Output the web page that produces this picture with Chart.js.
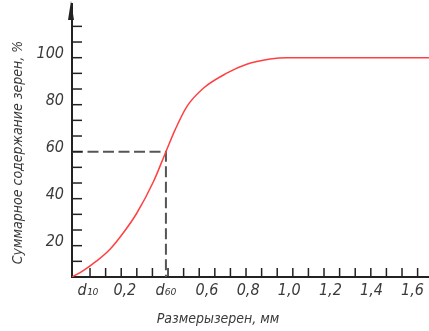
<!DOCTYPE html>
<html>
<head>
<meta charset="utf-8">
<script src="https://cdn.jsdelivr.net/npm/chart.js@4.4.0/dist/chart.umd.min.js"></script>
<style>
  html, body { margin: 0; padding: 0; background: #ffffff; }
  canvas { display: block; }
</style>
</head>
<body>
<canvas id="c" width="429" height="331"></canvas>
<script>
// ---- data ----
const grainSize = [-0.057, -0.002, 0.063, 0.128, 0.193, 0.258, 0.339, 0.40, 0.444, 0.501, 0.582, 0.696, 0.793, 0.907, 0.988, 1.101, 1.68];
const cumulativePercent = [6.67, 9.4, 13.5, 18.5, 25.5, 33.8, 47.2, 60, 69.2, 79.1, 87.0, 93.4, 97.2, 99.4, 100, 100, 100];

const d10 = 0.02;
const d60 = 0.40;
const level60 = 60;

const xTickValues = [d10, 0.2, d60, 0.6, 0.8, 1.0, 1.2, 1.4, 1.6];
const xTickLabels = ['d\u2081\u2080', '0,2', 'd\u2086\u2080', '0,6', '0,8', '1,0', '1,2', '1,4', '1,6'];
const yTickValues = [20, 40, 60, 80, 100];
const yTickLabels = ['20', '40', '60', '80', '100'];

const xMin = -0.057, xMax = 1.68;
const yMin = 20 / 3, yMax = 122.85;
const xMinorStart = 0.0307, xMinorStep = 0.0759, xMinorCount = 22;
const yMinorStep = 20 / 3, yMinorFrom = 2, yMinorTo = 17;

const xTitle = 'Размерызерен, мм';
const yTitle = 'Суммарное содержание зерен, %';

// ---- styles ----
const FONT = "'DejaVu Sans Condensed', 'Liberation Sans Narrow', 'Liberation Sans', sans-serif";
const TEXT_COLOR = '#3a3a3a';
const AXIS_COLOR = '#222222';

const xMinor = [];
for (let j = 0; j < xMinorCount; j++) xMinor.push(xMinorStart + xMinorStep * j);
const yMinor = [];
for (let k = yMinorFrom; k <= yMinorTo; k++) yMinor.push(yMinorStep * k);

const axisDecor = {
  id: 'axisDecor',
  afterDatasetsDraw(chart) {
    const ctx = chart.ctx;
    const xs = chart.scales.x, ys = chart.scales.y;
    const a = chart.chartArea;
    ctx.save();
    ctx.strokeStyle = AXIS_COLOR;
    ctx.lineWidth = 1.5;
    xMinor.forEach(v => {
      const px = xs.getPixelForValue(v);
      ctx.beginPath();
      ctx.moveTo(px, a.bottom);
      ctx.lineTo(px, a.bottom - 9);
      ctx.stroke();
    });
    yMinor.forEach(v => {
      const py = ys.getPixelForValue(v);
      ctx.beginPath();
      ctx.moveTo(a.left, py);
      ctx.lineTo(a.left + 10, py);
      ctx.stroke();
    });
    // arrow head on the y axis
    const ax = a.left - 1;
    ctx.fillStyle = AXIS_COLOR;
    ctx.beginPath();
    ctx.moveTo(ax, a.top - 3);
    ctx.lineTo(ax - 3, a.top + 16);
    ctx.lineTo(ax + 3, a.top + 16);
    ctx.closePath();
    ctx.fill();
    ctx.restore();
  }
};

new Chart(document.getElementById('c'), {
  type: 'line',
  data: {
    datasets: [
      {
        label: 'curve',
        data: grainSize.map((x, i) => ({ x: x, y: cumulativePercent[i] })),
        borderColor: 'rgb(255,64,64)',
        borderWidth: 1.5,
        pointRadius: 0,
        fill: false,
        cubicInterpolationMode: 'monotone',
        order: 1
      },
      {
        label: 'd60',
        data: [{ x: xMin, y: level60 }, { x: d60, y: level60 }, { x: d60, y: yMin }],
        borderColor: '#555555',
        borderWidth: 2,
        borderDash: [11, 4.5],
        pointRadius: 0,
        fill: false,
        tension: 0,
        order: 2
      }
    ]
  },
  options: {
    responsive: false,
    animation: false,
    devicePixelRatio: 1,
    layout: { padding: { top: 4, left: 7, right: 0, bottom: 0 } },
    plugins: {
      legend: { display: false },
      tooltip: { enabled: false },
      title: {
        display: true,
        text: xTitle,
        position: 'bottom',
        fullSize: true,
        color: TEXT_COLOR,
        font: { family: FONT, size: 14, style: 'italic', weight: 'normal' },
        padding: { top: 0, bottom: 3 }
      }
    },
    scales: {
      x: {
        type: 'linear',
        min: xMin,
        max: xMax,
        bounds: 'data',
        grid: { display: false, drawTicks: false },
        border: { display: true, color: AXIS_COLOR, width: 2 },
        afterBuildTicks: s => { s.ticks = xTickValues.map(v => ({ value: v })); },
        afterFit: s => { s.height = 34.2; s.paddingLeft = 0; s.paddingRight = 0; },
        ticks: {
          autoSkip: false,
          maxRotation: 0,
          padding: 4,
          color: TEXT_COLOR,
          font: { family: FONT, size: 16, style: 'italic' },
          callback: (v, i) => xTickLabels[i]
        }
      },
      y: {
        type: 'linear',
        min: yMin,
        max: yMax,
        bounds: 'data',
        grid: { display: false, drawTicks: false },
        border: { display: true, color: AXIS_COLOR, width: 2 },
        afterBuildTicks: s => { s.ticks = yTickValues.map(v => ({ value: v })); },
        afterFit: s => { s.width = 65; s.paddingTop = 0; s.paddingBottom = 0; },
        title: {
          display: true,
          text: yTitle + '\u00A0\u00A0\u00A0\u00A0\u00A0\u00A0',
          color: TEXT_COLOR,
          font: { family: FONT, size: 14, style: 'italic' },
          padding: { top: 3, bottom: 0 }
        },
        ticks: {
          autoSkip: false,
          padding: 8,
          crossAlign: 'near',
          labelOffset: -4,
          color: TEXT_COLOR,
          font: { family: FONT, size: 16, style: 'italic' },
          callback: (v, i) => yTickLabels[i]
        }
      }
    }
  },
  plugins: [axisDecor]
});
</script>
</body>
</html>
